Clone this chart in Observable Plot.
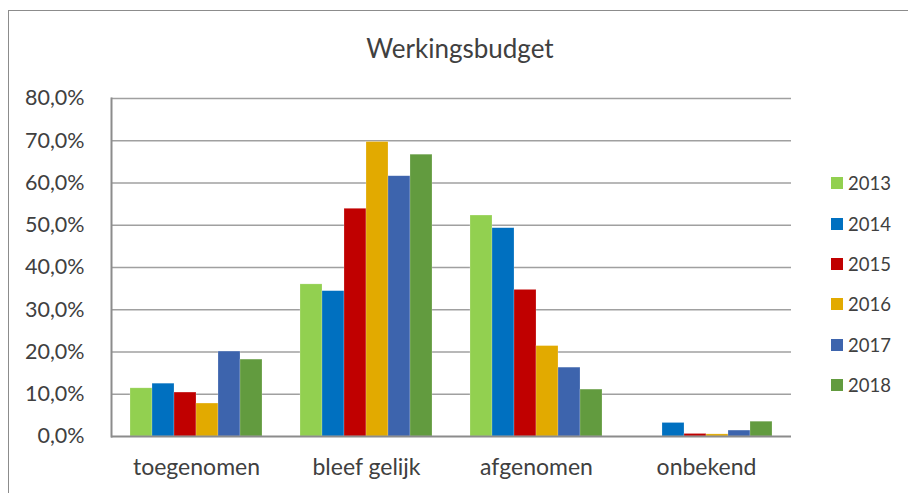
<!DOCTYPE html>
<html>
<head>
<meta charset="utf-8">
<script src="https://cdn.jsdelivr.net/npm/d3@7"></script>
<script src="https://cdn.jsdelivr.net/npm/@observablehq/plot@0.6"></script>
<style>
  html, body { margin: 0; padding: 0; background: #fff; overflow: hidden; }
  body { position: relative; width: 908px; height: 493px; font-family: Lato, "Open Sans", sans-serif; color: #404040; }
  #frame { position: absolute; left: 8px; top: 10px; width: 960px; height: 560px; border: 1px solid #8c8c8c; box-sizing: border-box; }
  #title { position: absolute; left: 6px; top: 0; width: 908px; height: 80px; text-align: center; font-size: 26px; line-height: 80px; padding-top: 8px; box-sizing: border-box; color: #404040; }
  #chart { position: absolute; left: 0; top: 80px; }
  #legend { position: absolute; left: 831px; top: 163px; }
  .row { display: flex; align-items: center; height: 40.4px; font-size: 18.5px; color: #404040; }
  .sw { width: 12px; height: 12px; margin-right: 5px; }
</style>
</head>
<body>
<div id="frame"></div>
<div id="title">Werkingsbudget</div>
<div id="chart"></div>
<div id="legend"></div>
<script>
const categories = ["toegenomen", "bleef gelijk", "afgenomen", "onbekend"];
const years = ["2013", "2014", "2015", "2016", "2017", "2018"];
const colors = ["#92D050", "#0070C0", "#C00000", "#E2AA00", "#3D64AD", "#629B3F"];
// values in percent, one array per year, in category order
const v2013 = [11.4, 36.0, 52.3, 0.0];
const v2014 = [12.5, 34.4, 49.3, 3.2];
const v2015 = [10.4, 53.9, 34.7, 0.6];
const v2016 = [7.8, 69.7, 21.4, 0.5];
const v2017 = [20.1, 61.6, 16.3, 1.4];
const v2018 = [18.2, 66.7, 11.1, 3.5];
const yTicks = [0, 10, 20, 30, 40, 50, 60, 70, 80];

const series = [v2013, v2014, v2015, v2016, v2017, v2018];
const rows = [];
categories.forEach((cat, i) => {
  years.forEach((yr, j) => rows.push({cat, year: yr, value: series[j][i]}));
});
const fmt = d => d.toFixed(1).replace(".", ",") + "%";

const chart = Plot.plot({
  width: 800,
  height: 413,
  marginTop: 18,
  marginBottom: 57,
  marginLeft: 110,
  marginRight: 8,
  style: {fontFamily: "Lato, 'Open Sans', sans-serif", color: "#404040", background: "transparent"},
  fx: {domain: categories, padding: 0},
  x: {domain: years, paddingInner: 0, paddingOuter: 0.755},
  y: {domain: [0, 80]},
  color: {domain: years, range: colors},
  marks: [
    Plot.gridY(yTicks.slice(1), {stroke: "#a0a0a0", strokeOpacity: 1, strokeWidth: 1.3}),
    Plot.barY(rows, {fx: "cat", x: "year", y: "value", fill: "year", stroke: "#ffffff", strokeOpacity: 0.35, strokeWidth: 0.6}),
    Plot.ruleY([0], {stroke: "#8c8c8c", strokeWidth: 2}),
    Plot.frame({anchor: "left", facetAnchor: "left", stroke: "#8c8c8c", strokeWidth: 2}),
    Plot.axisY(yTicks, {tickSize: 0, tickPadding: 27, tickFormat: fmt, fontSize: 21.5, fill: "#404040", label: null}),
    Plot.axisFx({anchor: "bottom", tickSize: 0, tickPadding: 22, fontSize: 23, fill: "#404040", label: null}),
    Plot.axisX({ticks: [], label: null, tickSize: 0})
  ]
});
document.getElementById("chart").appendChild(chart);

const legend = document.getElementById("legend");
years.forEach((yr, j) => {
  const row = document.createElement("div");
  row.className = "row";
  const sw = document.createElement("div");
  sw.className = "sw";
  sw.style.background = colors[j];
  const t = document.createElement("span");
  t.textContent = yr;
  row.appendChild(sw);
  row.appendChild(t);
  legend.appendChild(row);
});
</script>
</body>
</html>
